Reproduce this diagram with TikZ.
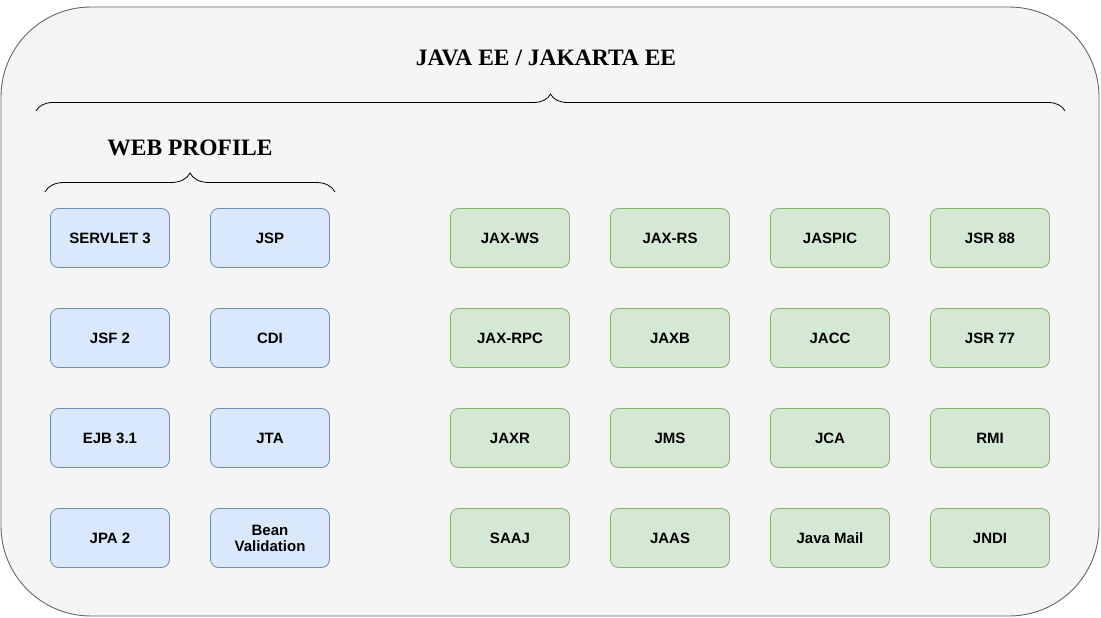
\documentclass[tikz,border=0pt]{standalone}
\usepackage{fontspec}
\setmainfont{Liberation Serif}
\newfontfamily\boxfont{Liberation Sans}
\usetikzlibrary{decorations.pathreplacing}
\definecolor{outerfill}{HTML}{F5F5F5}
\definecolor{outerline}{HTML}{666666}
\definecolor{webfill}{HTML}{DAE8FC}
\definecolor{webline}{HTML}{6C8EBF}
\definecolor{fullfill}{HTML}{D5E8D4}
\definecolor{fullline}{HTML}{82B366}
\tikzset{
  specbox/.style={rounded corners=8pt, minimum width=119pt, minimum height=59pt,
    inner sep=0pt, outer sep=0pt, line width=0.8pt, align=center,
    font=\boxfont\bfseries\fontsize{15}{16}\selectfont},
  webbox/.style={specbox, fill=webfill, draw=webline},
  fullbox/.style={specbox, fill=fullfill, draw=fullline},
  title/.style={font=\bfseries\fontsize{23.5}{26}\selectfont},
  curly/.style={decorate, decoration={brace, amplitude=#1}, line width=0.8pt}
}
\begin{document}
\begin{tikzpicture}[x=1pt, y=-1pt]
			\useasboundingbox (0,0) rectangle (1101,618);
			% platform frame
			\draw[fill=outerfill, draw=outerline, line width=0.9pt, rounded corners=90pt]
				(1,7) rectangle (1099,616);
			\node[title] (javaee) at (546,58) {JAVA EE / JAKARTA EE};
			\draw[curly=17] (36,111) -- (1065,111);
			% web profile
			\node[title] (webprofile) at (190,148) {WEB PROFILE};
			\draw[curly=19] (45,192) -- (335,192);
			\foreach \name/\txt/\x/\y in {servlet/SERVLET 3/110/238, jsp/JSP/270/238,
				jsf/JSF 2/110/338, cdi/CDI/270/338,
				ejb/EJB 3.1/110/438, jta/JTA/270/438,
				jpa/JPA 2/110/538, bean/Bean\\Validation/270/538}
				\node[webbox] (\name) at (\x,\y) {\txt};
			% full profile
			\foreach \name/\txt/\x/\y in {jaxws/JAX-WS/510/238, jaxrs/JAX-RS/670/238,
				jaspic/JASPIC/830/238, jsr88/JSR 88/990/238,
				jaxrpc/JAX-RPC/510/338, jaxb/JAXB/670/338,
				jacc/JACC/830/338, jsr77/JSR 77/990/338,
				jaxr/JAXR/510/438, jms/JMS/670/438,
				jca/JCA/830/438, rmi/RMI/990/438,
				saaj/SAAJ/510/538, jaas/JAAS/670/538,
				javamail/Java Mail/830/538, jndi/JNDI/990/538}
				\node[fullbox] (\name) at (\x,\y) {\txt};
\end{tikzpicture}
\end{document}
